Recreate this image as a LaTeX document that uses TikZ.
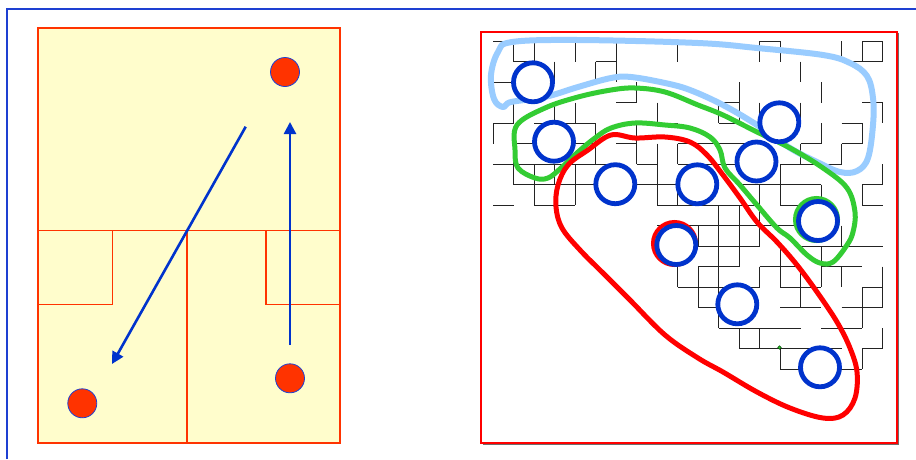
\documentclass[tikz,border=0pt]{standalone}
\usetikzlibrary{arrows.meta}
\definecolor{frameblue}{RGB}{30,64,210}
\definecolor{panelfill}{RGB}{255,253,204}
\definecolor{wallred}{RGB}{255,51,0}
\definecolor{ringblue}{RGB}{0,51,204}
\definecolor{skyloop}{RGB}{153,204,255}
\definecolor{greenloop}{RGB}{51,204,51}
\definecolor{redloop}{RGB}{255,0,0}
\definecolor{mazeline}{RGB}{35,35,35}
\definecolor{shadowgray}{RGB}{110,110,110}
\tikzset{
  wall/.style={draw=wallred, line width=1.4pt},
  token/.style={circle, fill=wallred, draw=frameblue, line width=0.8pt, minimum size=29pt, inner sep=0pt},
  flow/.style={draw=ringblue, line width=2.6pt, -{Triangle[length=12pt,width=12pt]}},
  mazewall/.style={draw=mazeline, line width=0.9pt},
  ring/.style={circle, fill=white, draw=ringblue, line width=4.8pt, minimum size=39pt, inner sep=0pt},
  haloring/.style={circle, draw=#1, line width=4pt, minimum size=43pt, inner sep=0pt},
  loopline/.style={draw=#1, line width=5pt, line join=round},
}
\begin{document}
\begin{tikzpicture}[x=1pt,y=-1pt]
\useasboundingbox (0,0) rectangle (916,459);
\fill[white] (0,0) rectangle (916,459);

% outer frame edges
\draw[frameblue, line width=2pt] (7,459) -- (7,9.3) -- (916,9.3);

% ---------- floor plan (left) ----------
\filldraw[fill=panelfill, wall] (38,28) rectangle (340,443);
\draw[wall] (38,230.7) -- (340,230.7);
\draw[wall] (187,230.7) -- (187,443);
\draw[wall] (38,304.7) -- (112.3,304.7) -- (112.3,230.7);
\draw[wall] (340,304.7) -- (266,304.7) -- (266,230.7);

\node[token] (tA) at (285,72) {};
\node[token] (tB) at (82.3,403.3) {};
\node[token] (tC) at (290,378.3) {};

\coordinate (f1s) at (245.7,126.7);
\coordinate (f1e) at (112,364);
\coordinate (f2s) at (290,345);
\coordinate (f2e) at (290,122);
\draw[flow] (f1s) -- (f1e);
\draw[flow] (f2s) -- (f2e);

% ---------- maze panel (right) ----------
\fill[shadowgray] (482.5,33) rectangle (898.5,444.5);
\filldraw[fill=white, draw=redloop, line width=2pt] (481,31.5) rectangle (897,442.5);

\begin{scope}[shift={(493pt,-41pt)}, x=20.5pt, y=-20.5pt]
  \foreach \j/\a/\b in {0/0/1, 0/13/14, 0/18/19,
      1/1/2, 1/5/6, 1/17/19,
      2/0/1,
      3/1/2, 3/6/7, 3/11/12, 3/18/19,
      4/0/1, 4/2/5, 4/8/9, 4/11/12, 4/17/18,
      5/1/5, 5/6/7, 5/9/13, 5/15/16, 5/17/18,
      6/0/6, 6/7/8, 6/9/13, 6/14/17,
      7/1/9, 7/12/16, 7/18/19,
      8/0/1, 8/2/4, 8/8/13, 8/14/16, 8/18/19,
      9/8/15,
      10/10/13, 10/15/19,
      11/10/12, 11/13/15, 11/16/18,
      12/9/13, 12/14/16, 12/18/19,
      13/10/11, 13/14/16, 13/17/19,
      14/11/15, 14/16/18,
      15/12/17, 15/18/19,
      16/14/18}
    \draw[mazewall] (\a,\j) -- (\b,\j);
  \foreach \i/\a/\b in {0/2/3, 0/4/5,
      1/0/1, 1/3/4, 1/5/7,
      2/0/1, 2/6/8,
      3/1/2, 3/3/4, 3/6/7,
      4/0/1, 4/3/4, 4/6/8,
      5/1/2, 5/4/6,
      6/0/2,
      7/2/3, 7/4/6,
      8/3/4, 8/5/8,
      9/0/1, 9/5/6, 9/7/8, 9/11/12,
      10/9/10, 10/11/13,
      11/3/4, 11/8/14,
      12/2/4, 12/8/11, 12/14/15,
      13/0/1, 13/3/4, 13/7/10, 13/11/12, 13/14/15,
      14/0/1, 14/6/8, 14/10/12, 14/15/16,
      15/1/2, 15/3/4, 15/5/6, 15/11/13,
      16/2/3, 16/4/5, 16/7/8, 16/10/12,
      17/0/1, 17/5/6, 17/9/10, 17/11/12,
      18/0/1, 18/4/5, 18/7/8, 18/12/14, 18/15/16,
      19/0/1, 19/3/4, 19/6/7, 19/11/13, 19/14/15}
    \draw[mazewall] (\i,\a) -- (\i,\b);
\end{scope}

% cluster outlines
\draw[loopline=skyloop, line width=6pt] plot[smooth cycle, tension=0.6] coordinates {
  (503,107) (494,99) (491,75) (498,52) (512,42) (578,40) (698,43) (757,48)
  (823,55) (850,63) (867,76) (873,98) (873,125) (868,158) (857,171) (840,172)
  (817,162) (790,148) (757,125) (723,105) (690,90) (665,83) (631,77) (611,78)
  (578,87) (545,97) (511,102)};
\draw[loopline=greenloop] plot[smooth cycle, tension=0.6] coordinates {
  (517,125) (545,108) (578,97) (611,90) (635,88) (665,92) (698,105) (723,115)
  (757,132) (790,148) (823,168) (847,188) (855,212) (853,232) (847,245)
  (833,262) (820,263) (807,255) (790,238) (777,228) (757,205) (740,185)
  (725,168) (720,150) (710,137) (690,128) (665,125) (635,123) (611,128)
  (595,138) (578,152) (561,168) (548,178) (535,178) (518,168) (515,150)};
\draw[loopline=redloop] plot[smooth cycle, tension=0.6] coordinates {
  (611,135) (635,138) (665,137) (690,142) (707,155) (723,175) (740,198)
  (757,222) (777,242) (797,265) (817,292) (837,322) (850,348) (857,372)
  (855,398) (843,415) (823,418) (790,408) (757,392) (723,372) (698,358)
  (665,335) (630,300) (605,275) (580,250) (562,228) (556,207) (558,185)
  (568,165) (588,150)};

% halo rings
\node[haloring=greenloop] (h7) at (816.5,219.5) {};
\node[haloring=redloop] (h8) at (674.5,243.5) {};

% agents
\node[ring] (c1) at (533,82.3) {};
\node[ring] (c2) at (554,141.7) {};
\node[ring] (c3) at (615.3,184.2) {};
\node[ring] (c4) at (697.3,184.3) {};
\node[ring] (c5) at (779.3,122.3) {};
\node[ring] (c6) at (756.5,161.5) {};
\node[ring] (c7) at (818,221) {};
\node[ring] (c8) at (676.3,245) {};
\node[ring] (c9) at (737.3,304.3) {};
\node[ring] (c10) at (820,367.3) {};

\node[circle, fill=greenloop, draw=black!70!green, line width=0.5pt, minimum size=3.5pt, inner sep=0pt] (gdot) at (779.5,347.5) {};
\end{tikzpicture}
\end{document}
